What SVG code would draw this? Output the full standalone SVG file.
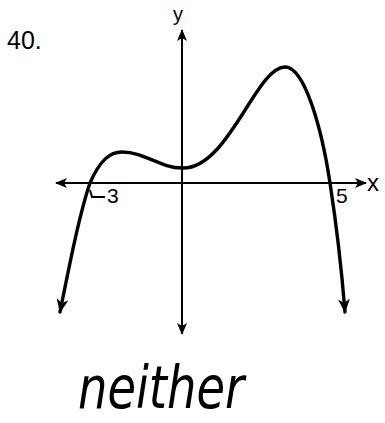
<svg xmlns="http://www.w3.org/2000/svg" width="385" height="423" viewBox="0 0 385 423">
<style>
.axis{stroke:#000;stroke-width:2;fill:none}
.curve{stroke:#000;stroke-width:3.4;fill:none;stroke-linecap:round}
.lbl{font-family:"Liberation Sans",Arial,sans-serif;fill:#000}
.hand{font-family:"DejaVu Sans","Liberation Sans",sans-serif;font-style:italic;fill:#000;font-weight:normal}
</style>
<defs>
<marker id="ah" viewBox="0 0 12 10" refX="11" refY="5" markerWidth="12" markerHeight="10" markerUnits="userSpaceOnUse" orient="auto-start-reverse">
<path d="M0,0 L12,5 L0,10 L3,5 Z" fill="#000"/>
</marker>
<marker id="ahc" viewBox="0 0 14 12" refX="13" refY="6" markerWidth="14" markerHeight="12" markerUnits="userSpaceOnUse" orient="auto-start-reverse">
<path d="M0,0 L14,6 L0,12 L4,6 Z" fill="#000"/>
</marker>
</defs>
<rect width="385" height="423" fill="#fff"/>
<g id="connectors">
<line id="x-axis" class="axis" x1="56" y1="183" x2="366" y2="183" marker-start="url(#ah)" marker-end="url(#ah)"/>
<line id="y-axis" class="axis" x1="182" y1="30" x2="182" y2="334" marker-start="url(#ah)" marker-end="url(#ah)"/>
</g>
<g id="graph">
<path class="curve" d="M60,312 C70,262 80,212 90,183 C100,160 110,152 122,152 C145,152 160,168 182,168 C228,170 256,67 285,67 C305,67 322,130 330,183 C336,222 341,262 345,312" marker-start="url(#ahc)" marker-end="url(#ahc)"/>
<path class="axis" d="M90,190 L92,197 L105,197" stroke-width="1.8"/>
</g>
<g id="labels">
<text class="lbl" x="7" y="49" font-size="25">40.</text>
<text class="lbl" x="173" y="21" font-size="20">y</text>
<text class="lbl" x="367" y="191" font-size="24">x</text>
<text class="lbl" x="107" y="203" font-size="21">3</text>
<text class="lbl" x="336" y="203" font-size="21">5</text>
<text class="hand" x="78" y="408" font-size="58" textLength="166" lengthAdjust="spacingAndGlyphs">neither</text>
</g>
</svg>
